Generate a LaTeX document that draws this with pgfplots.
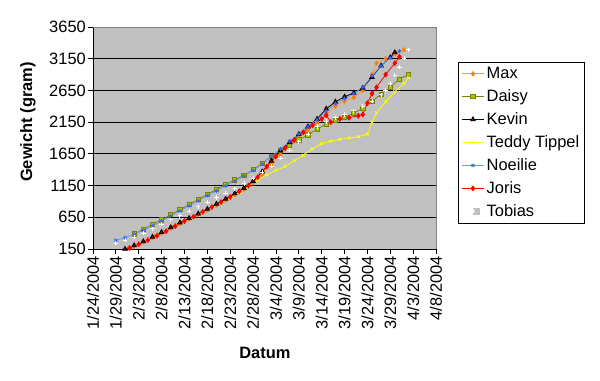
\documentclass[border=0pt]{standalone}
\usepackage{pgfplots}
\pgfplotsset{compat=1.18}
\usepackage{fontspec}
\setmainfont{Liberation Sans}
\definecolor{plotbg}{RGB}{192,192,192}
\definecolor{maxline}{RGB}{255,153,51}
\definecolor{maxmark}{RGB}{255,128,0}
\definecolor{daisyline}{RGB}{128,128,0}
\definecolor{daisymark}{RGB}{153,204,0}
\definecolor{kevinmark}{RGB}{128,0,0}
\definecolor{teddy}{RGB}{255,255,0}
\definecolor{noeline}{RGB}{102,153,255}
\definecolor{noemark}{RGB}{51,102,255}
\definecolor{joris}{RGB}{255,0,0}
\newcommand{\fs}{\fontsize{16.5}{19}\selectfont}
\begin{document}
\begin{tikzpicture}
\useasboundingbox (0,0) rectangle (600bp,381bp);
\begin{axis}[
  at={(93bp,132bp)}, anchor=south west,
  scale only axis, width=343bp, height=222bp,
  xmin=0, xmax=75, ymin=150, ymax=3650,
  axis background/.style={fill=plotbg},
  axis x line*=bottom, axis y line*=left,
  axis line style={black, line width=0.8bp},
  tick align=outside, major tick length=5bp,
  tick style={black, line width=0.8bp},
  xtick={0,5,...,75},
  xticklabels={1/24/2004,1/29/2004,2/3/2004,2/8/2004,2/13/2004,2/18/2004,2/23/2004,2/28/2004,3/4/2004,3/9/2004,3/14/2004,3/19/2004,3/24/2004,3/29/2004,4/3/2004,4/8/2004},
  xticklabel style={rotate=90, anchor=east, font=\fs, inner sep=2bp},
  ytick={150,650,...,3650},
  yticklabel style={font=\fs, inner sep=2bp},
  /pgf/number format/assume math mode=true,
  /pgf/number format/1000 sep={},
  ymajorgrids, major grid style={black, line width=0.8bp},
  xlabel={Datum}, ylabel={Gewicht (gram)},
  xlabel style={font=\bfseries\fs, at={(axis description cs:0.501,-0.468)}, anchor=center},
  ylabel style={font=\bfseries\fs, at={(axis description cs:-0.19,0.572)}, anchor=center},
  legend style={at={(axis description cs:1.064,0.842)}, anchor=north west, draw=black, fill=white, font=\fs, row sep=5.6bp, inner xsep=3bp, inner ysep=3bp, line width=0.6bp},
  legend cell align=left,
  legend image code/.code={\draw[mark repeat=2,mark phase=2] plot coordinates {(0cm,0cm) (0.4cm,0cm) (0.8cm,0cm)};},
  every axis plot/.append style={line width=0.75bp},
  extra description/.code={\draw[gray, line width=0.8bp] (rel axis cs:0,1) -- (rel axis cs:1,1) -- (rel axis cs:1,0);},
]
% Max
\addplot[color=maxline, mark=diamond*, mark size=2.2bp, mark options={fill=maxmark, draw=maxmark}] coordinates {
(9,190)(11,260)(13,330)(15,400)(17,475)(19,550)(21,620)(23,690)(25,765)(27,840)(29,920)(31,1005)(33,1090)(35,1190)(37,1330)(39,1480)(41,1640)(43,1780)(45,1900)(47,2020)(49,2140)(51,2270)(53,2400)(55,2480)(57,2540)(59,2650)(61,2900)(62,3080)(64,3150)(66,3220)(68,3290)};
\addlegendentry{Max}
% Daisy
\addplot[color=daisyline, mark=square*, mark size=2.1bp, mark options={fill=daisymark, draw=daisyline}] coordinates {
(9,390)(11,460)(13,540)(15,610)(17,690)(19,770)(21,850)(23,930)(25,1010)(27,1090)(29,1170)(31,1240)(33,1310)(35,1400)(37,1500)(39,1610)(41,1700)(43,1790)(45,1870)(47,1950)(49,2040)(51,2120)(53,2180)(55,2230)(57,2290)(59,2370)(61,2480)(63,2590)(65,2700)(67,2830)(69,2900)};
\addlegendentry{Daisy}
% Kevin
\addplot[color=black, mark=triangle*, mark size=2.6bp, mark options={fill=kevinmark, draw=black}] coordinates {
(7,150)(9,205)(11,270)(13,340)(15,415)(17,490)(19,565)(21,635)(23,705)(25,780)(27,860)(29,940)(31,1025)(33,1110)(35,1220)(37,1370)(39,1540)(41,1700)(43,1830)(45,1960)(47,2080)(49,2200)(51,2360)(53,2470)(55,2550)(57,2610)(59,2690)(61,2860)(63,3040)(65,3170)(66,3250)};
\addlegendentry{Kevin}
% Teddy Tippel
\addplot[color=teddy, mark=x, mark size=2bp] coordinates {
(8,170)(10,235)(12,300)(14,370)(16,445)(18,515)(20,590)(22,660)(24,730)(26,800)(28,880)(30,960)(32,1040)(34,1130)(36,1240)(38,1320)(40,1390)(42,1450)(44,1540)(46,1630)(48,1730)(50,1810)(52,1850)(54,1880)(56,1900)(58,1920)(60,1960)(61,2150)(62,2300)(64,2470)(66,2630)(68,2760)(69,2850)};
\addlegendentry{Teddy Tippel}
% Noeilie
\addplot[color=noeline, mark=asterisk, mark size=2bp, mark options={draw=noemark}] coordinates {
(5,285)(7,330)(9,385)(11,445)(13,515)(15,590)(17,670)(19,750)(21,830)(23,910)(25,990)(27,1065)(29,1145)(31,1220)(33,1300)(35,1390)(37,1490)(39,1610)(41,1730)(43,1850)(45,1960)(47,2080)(49,2190)(51,2320)(53,2440)(55,2520)(57,2600)(59,2700)(61,2880)(63,3040)(65,3160)(67,3270)};
\addlegendentry{Noeilie}
% Joris
\addplot[color=joris, mark=diamond*, mark size=2.4bp, mark options={fill=joris, draw=joris}] coordinates {
(8,165)(10,225)(12,290)(14,360)(16,430)(18,510)(20,590)(22,660)(24,735)(26,810)(28,890)(30,970)(32,1060)(34,1150)(36,1280)(38,1450)(40,1610)(42,1740)(44,1870)(46,1990)(48,2100)(50,2200)(51,2260)(52,2150)(54,2200)(56,2220)(58,2250)(59,2270)(60,2450)(61,2600)(62,2700)(64,2900)(66,3080)(67,3180)};
\addlegendentry{Joris}
% Tobias
\addplot[only marks, mark=+, mark size=2.2bp, mark options={draw=white, line width=0.8bp},
  legend image code/.code={\node[fill=plotbg, draw=plotbg, minimum size=6bp, inner sep=0pt] at (0.4cm,0cm) {}; \draw[white, line width=0.6bp] (0.4cm-2bp,0cm) -- (0.4cm+2bp,0cm) (0.4cm,-2bp) -- (0.4cm,2bp);}] coordinates {
(5,240)(7,290)(9,340)(11,400)(13,470)(15,540)(17,610)(19,680)(21,750)(23,820)(25,890)(27,960)(29,1030)(31,1100)(33,1180)(35,1270)(37,1360)(39,1460)(41,1580)(43,1710)(45,1840)(47,1960)(49,2080)(51,2160)(53,2220)(55,2270)(57,2330)(59,2400)(61,2480)(63,2580)(64,2650)(65,2760)(66,2890)(67,3020)(68,3160)(69,3290)};
\addlegendentry{Tobias}
\end{axis}
\end{tikzpicture}
\end{document}
